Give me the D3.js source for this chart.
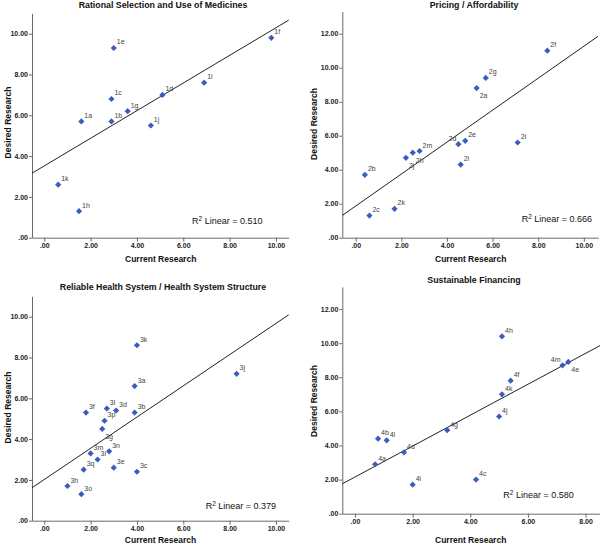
<!DOCTYPE html>
<html><head><meta charset="utf-8">
<script src="https://cdn.jsdelivr.net/npm/d3@7"></script>
<style>
body{margin:0;background:#fff}
svg{display:block}
text{font-family:"Liberation Sans",Arial,sans-serif}
</style>
</head><body>
<svg id="chart" width="600" height="545"></svg>
<script>
// ---------- data ----------
const titles = ["Rational Selection and Use of Medicines", "Pricing / Affordability",
                "Reliable Health System / Health System Structure", "Sustainable Financing"];
const xAxisTitle = "Current Research";
const yAxisTitle = "Desired Research";

const labels1  = ["1a","1b","1c","1d","1e","1f","1g","1h","1i","1j","1k"];
const current1 = [1.6, 2.9, 2.9, 5.1, 3.0, 9.8, 3.6, 1.5, 6.9, 4.6, 0.6];
const desired1 = [5.7, 5.7, 6.8, 7.0, 9.3, 9.8, 6.2, 1.3, 7.6, 5.5, 2.6];

const labels2  = ["2a","2b","2c","2d","2e","2f","2g","2h","2i","2j","2k","2l","2m"];
const current2 = [5.3, 0.4, 0.6, 4.5, 4.8, 8.4, 5.7, 2.5, 7.1, 2.2, 1.7, 4.6, 2.8];
const desired2 = [8.8, 3.7, 1.3, 5.5, 5.7, 11.0, 9.4, 5.0, 5.6, 4.7, 1.7, 4.3, 5.1];

const labels3  = ["3a","3b","3c","3d","3e","3f","3g","3h","3i","3j","3k","3l","3m","3n","3o","3p","3q"];
const current3 = [3.9, 3.9, 4.0, 3.1, 3.0, 1.8, 2.5, 1.0, 2.3, 8.3, 4.0, 2.7, 2.0, 2.8, 1.6, 2.6, 1.7];
const desired3 = [6.6, 5.3, 2.4, 5.4, 2.6, 5.3, 4.5, 1.7, 3.0, 7.2, 8.6, 5.5, 3.3, 3.4, 1.3, 4.9, 2.5];

const labels4  = ["4a","4b","4c","4d","4e","4f","4g","4h","4i","4j","4k","4l","4m"];
const current4 = [0.7, 0.8, 4.2, 1.7, 7.4, 5.4, 3.2, 5.1, 2.0, 5.0, 5.1, 1.1, 7.2];
const desired4 = [2.9, 4.4, 2.0, 3.6, 8.9, 7.8, 4.9, 10.4, 1.7, 5.7, 7.0, 4.3, 8.7];

const r2Values = ["0.510", "0.666", "0.379", "0.580"];

const xTicks1 = [0, 2, 4, 6, 8, 10];
const yTicks1 = [0, 2, 4, 6, 8, 10];
const xTicks2 = [0, 2, 4, 6, 8, 10];
const yTicks2 = [0, 2, 4, 6, 8, 10, 12];
const xTicks3 = [0, 2, 4, 6, 8, 10];
const yTicks3 = [0, 2, 4, 6, 8, 10];
const xTicks4 = [0, 2, 4, 6, 8];
const yTicks4 = [0, 2, 4, 6, 8, 10, 12];

// label placement exceptions (layout only)
const labelsBelow = ["2a","2h","2j","3g","4e"];
const labelsLeft  = ["2d","4m"];

// ---------- layout ----------
const panels = [
  {title: titles[0], labels: labels1, xs: current1, ys: desired1, r2: r2Values[0], xt: xTicks1, yt: yTicks1,
   xDom: [-0.53, 10.55], xRng: [32, 288.7], yDom: [0, 11], yRng: [237.7, 13.3],
   titlePos: [163, 7.5], xLab: [160.7, 261.5], yLab: [11, 122.5], r2Pos: [192, 224]},
  {title: titles[1], labels: labels2, xs: current2, ys: desired2, r2: r2Values[1], xt: xTicks2, yt: yTicks2,
   xDom: [-0.59, 10.63], xRng: [342.3, 598.2], yDom: [0, 13.3], yRng: [237.7, 11.6],
   titlePos: [474, 7.5], xLab: [470.7, 261.5], yLab: [317, 124], r2Pos: [521.7, 222]},
  {title: titles[2], labels: labels3, xs: current3, ys: desired3, r2: r2Values[2], xt: xTicks3, yt: yTicks3,
   xDom: [-0.53, 10.55], xRng: [32, 288.7], yDom: [0, 11], yRng: [520.7, 296.3],
   titlePos: [163, 290], xLab: [160.5, 543], yLab: [11, 407.5], r2Pos: [205.7, 509]},
  {title: titles[3], labels: labels4, xs: current4, ys: desired4, r2: r2Values[3], xt: xTicks4, yt: yTicks4,
   xDom: [-0.44, 8.5], xRng: [342.3, 600], yDom: [0, 13.3], yRng: [513.7, 286.9],
   titlePos: [474, 282.5], xLab: [470.7, 543], yLab: [317, 401], r2Pos: [503.3, 498]}
];

const svg = d3.select("#chart");
const fmt = v => d3.format(".2f")(v).replace(/^0\./, ".");
const blue = "#3d5bbf";
const axisColor = "#6a6a6a";

panels.forEach(p => {
  const g = svg.append("g");
  const x = d3.scaleLinear().domain(p.xDom).range(p.xRng);
  const y = d3.scaleLinear().domain(p.yDom).range(p.yRng);

  // axes
  const xa = g.append("g").attr("transform", `translate(0,${p.yRng[0]})`)
    .call(d3.axisBottom(x).tickValues(p.xt).tickFormat(fmt).tickSize(4).tickSizeOuter(0).tickPadding(1));
  const ya = g.append("g").attr("transform", `translate(${p.xRng[0]},0)`)
    .call(d3.axisLeft(y).tickValues(p.yt).tickFormat(fmt).tickSize(3).tickSizeOuter(0).tickPadding(1));
  [xa, ya].forEach(a => {
    a.select(".domain").attr("stroke", axisColor);
    a.selectAll(".tick line").attr("stroke", axisColor);
    a.selectAll(".tick text").attr("fill", "#222").style("font-size", "7px").style("font-weight", "bold");
  });

  // regression line (least squares fit of the points)
  const n = p.xs.length;
  const mx = d3.mean(p.xs), my = d3.mean(p.ys);
  let sxy = 0, sxx = 0;
  for (let i = 0; i < n; i++) { sxy += (p.xs[i]-mx)*(p.ys[i]-my); sxx += (p.xs[i]-mx)**2; }
  const b = sxy / sxx, a0 = my - b * mx;
  g.append("line")
    .attr("x1", x(p.xDom[0])).attr("y1", y(a0 + b * p.xDom[0]))
    .attr("x2", x(p.xDom[1])).attr("y2", y(a0 + b * p.xDom[1]))
    .attr("stroke", "#222").attr("stroke-width", 1);

  // points
  const pts = p.labels.map((l, i) => ({l, cx: p.xs[i], cy: p.ys[i]}));
  const r = 3.1;
  g.selectAll("path.pt").data(pts).join("path").attr("class", "pt")
    .attr("d", d => { const px = x(d.cx), py = y(d.cy);
      return `M${px},${py-r}L${px+r},${py}L${px},${py+r}L${px-r},${py}Z`; })
    .attr("fill", blue);

  g.selectAll("text.pl").data(pts).join("text").attr("class", "pl")
    .attr("x", d => labelsLeft.includes(d.l) ? x(d.cx) - 2 : x(d.cx) + 3)
    .attr("y", d => labelsBelow.includes(d.l) ? y(d.cy) + 10 : y(d.cy) - 3.5)
    .attr("text-anchor", d => labelsLeft.includes(d.l) ? "end" : "start")
    .style("font-size", "7px").attr("fill", "#444")
    .text(d => d.l);

  // titles
  g.append("text").attr("x", p.titlePos[0]).attr("y", p.titlePos[1]).attr("text-anchor", "middle")
    .style("font-size", "8.8px").style("font-weight", "bold").attr("fill", "#111").text(p.title);
  g.append("text").attr("x", p.xLab[0]).attr("y", p.xLab[1]).attr("text-anchor", "middle")
    .style("font-size", "8.5px").style("font-weight", "bold").attr("fill", "#111").text(xAxisTitle);
  g.append("text").attr("transform", `translate(${p.yLab[0]},${p.yLab[1]}) rotate(-90)`).attr("text-anchor", "middle")
    .style("font-size", "8.5px").style("font-weight", "bold").attr("fill", "#111").text(yAxisTitle);

  // R2 annotation
  const t = g.append("text").attr("x", p.r2Pos[0]).attr("y", p.r2Pos[1])
    .style("font-size", "9px").attr("fill", "#111");
  t.append("tspan").text("R");
  t.append("tspan").attr("dy", -3.5).style("font-size", "6.5px").text("2");
  t.append("tspan").attr("dy", 3.5).text(" Linear = " + p.r2);
});
</script>
</body></html>
